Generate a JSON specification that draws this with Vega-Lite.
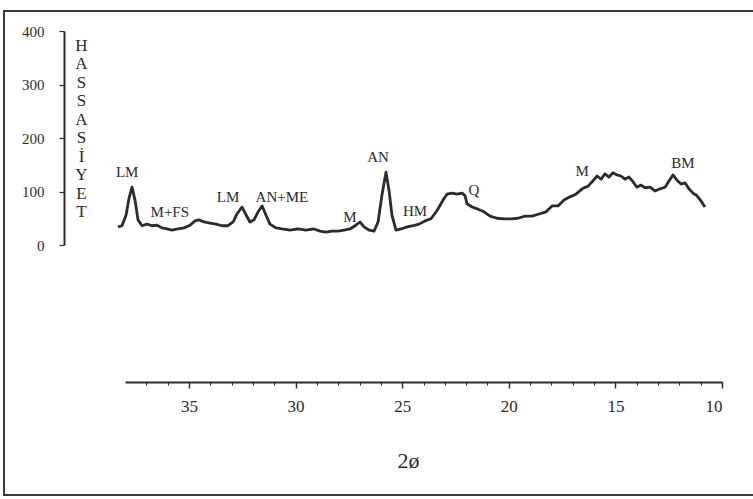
{
  "$schema": "https://vega.github.io/schema/vega-lite/v6.json",
  "width": 760,
  "height": 484,
  "autosize": {"type": "none"},
  "padding": {"left": 4, "top": 11, "right": 0, "bottom": 4},
  "background": "white",
  "config": {
    "view": {"stroke": "#3a3a3a", "strokeWidth": 2},
    "axis": {"grid": false, "labelFont": "Liberation Serif", "titleFont": "Liberation Serif", "labelColor": "#2b2b2b", "titleColor": "#2b2b2b", "domainColor": "#2b2b2b", "tickColor": "#2b2b2b"}
  },
  "datasets": {
    "curve": [
      {"t": 38.33, "i": 34}, {"t": 38.14, "i": 36}, {"t": 37.95, "i": 56}, {"t": 37.81, "i": 88},
      {"t": 37.67, "i": 108}, {"t": 37.53, "i": 84}, {"t": 37.39, "i": 47}, {"t": 37.2, "i": 36},
      {"t": 36.97, "i": 39}, {"t": 36.73, "i": 36}, {"t": 36.5, "i": 37}, {"t": 36.26, "i": 32},
      {"t": 36.03, "i": 30}, {"t": 35.8, "i": 28}, {"t": 35.51, "i": 30}, {"t": 35.23, "i": 32},
      {"t": 34.95, "i": 37}, {"t": 34.72, "i": 45}, {"t": 34.53, "i": 47}, {"t": 34.29, "i": 43},
      {"t": 34.01, "i": 41}, {"t": 33.73, "i": 39}, {"t": 33.45, "i": 36}, {"t": 33.17, "i": 36},
      {"t": 32.93, "i": 43}, {"t": 32.75, "i": 58}, {"t": 32.51, "i": 71}, {"t": 32.32, "i": 56},
      {"t": 32.14, "i": 43}, {"t": 31.95, "i": 47}, {"t": 31.76, "i": 62}, {"t": 31.57, "i": 73},
      {"t": 31.39, "i": 56}, {"t": 31.2, "i": 39}, {"t": 30.92, "i": 32}, {"t": 30.64, "i": 30},
      {"t": 30.26, "i": 28}, {"t": 29.89, "i": 30}, {"t": 29.51, "i": 28}, {"t": 29.14, "i": 30},
      {"t": 28.85, "i": 26}, {"t": 28.57, "i": 24}, {"t": 28.29, "i": 26}, {"t": 28.01, "i": 26},
      {"t": 27.73, "i": 28}, {"t": 27.45, "i": 30}, {"t": 27.17, "i": 37}, {"t": 26.98, "i": 43},
      {"t": 26.79, "i": 34}, {"t": 26.56, "i": 28}, {"t": 26.32, "i": 26}, {"t": 26.13, "i": 43},
      {"t": 25.95, "i": 93}, {"t": 25.76, "i": 136}, {"t": 25.62, "i": 103}, {"t": 25.48, "i": 56},
      {"t": 25.29, "i": 28}, {"t": 25.05, "i": 30}, {"t": 24.77, "i": 34}, {"t": 24.49, "i": 36},
      {"t": 24.21, "i": 39}, {"t": 23.93, "i": 45}, {"t": 23.65, "i": 49}, {"t": 23.37, "i": 64},
      {"t": 23.08, "i": 84}, {"t": 22.9, "i": 95}, {"t": 22.66, "i": 97}, {"t": 22.43, "i": 95},
      {"t": 22.19, "i": 97}, {"t": 22.05, "i": 92}, {"t": 21.96, "i": 77}, {"t": 21.72, "i": 71},
      {"t": 21.44, "i": 67}, {"t": 21.16, "i": 62}, {"t": 20.88, "i": 54}, {"t": 20.55, "i": 50},
      {"t": 20.22, "i": 49}, {"t": 19.89, "i": 49}, {"t": 19.57, "i": 50}, {"t": 19.24, "i": 54},
      {"t": 18.91, "i": 54}, {"t": 18.58, "i": 58}, {"t": 18.25, "i": 62}, {"t": 17.97, "i": 73},
      {"t": 17.69, "i": 73}, {"t": 17.41, "i": 84}, {"t": 17.13, "i": 90}, {"t": 16.85, "i": 95},
      {"t": 16.56, "i": 105}, {"t": 16.28, "i": 110}, {"t": 16.05, "i": 120}, {"t": 15.86, "i": 129},
      {"t": 15.67, "i": 123}, {"t": 15.49, "i": 133}, {"t": 15.3, "i": 127}, {"t": 15.11, "i": 135},
      {"t": 14.92, "i": 131}, {"t": 14.74, "i": 129}, {"t": 14.55, "i": 123}, {"t": 14.36, "i": 127},
      {"t": 14.17, "i": 118}, {"t": 13.99, "i": 108}, {"t": 13.8, "i": 112}, {"t": 13.61, "i": 107},
      {"t": 13.38, "i": 108}, {"t": 13.14, "i": 101}, {"t": 12.91, "i": 105}, {"t": 12.67, "i": 108},
      {"t": 12.48, "i": 120}, {"t": 12.3, "i": 131}, {"t": 12.11, "i": 121}, {"t": 11.92, "i": 114},
      {"t": 11.73, "i": 116}, {"t": 11.55, "i": 105}, {"t": 11.36, "i": 97}, {"t": 11.17, "i": 92},
      {"t": 10.98, "i": 82}, {"t": 10.8, "i": 71}
    ],
    "labels": [
      {"t": 37.9, "i": 136, "label": "LM"},
      {"t": 35.9, "i": 62, "label": "M+FS"},
      {"t": 33.17, "i": 90, "label": "LM"},
      {"t": 30.64, "i": 90, "label": "AN+ME"},
      {"t": 27.45, "i": 52, "label": "M"},
      {"t": 26.13, "i": 164, "label": "AN"},
      {"t": 24.4, "i": 64, "label": "HM"},
      {"t": 21.63, "i": 103, "label": "Q"},
      {"t": 16.56, "i": 138, "label": "M"},
      {"t": 11.83, "i": 153, "label": "BM"}
    ]
  },
  "resolve": {"axis": {"x": "independent"}},
  "layer": [
    {
      "data": {"name": "curve"},
      "mark": {"type": "line", "color": "#2b2b2b", "strokeWidth": 2.8, "strokeJoin": "round"},
      "encoding": {
        "x": {
          "field": "t", "type": "quantitative",
          "scale": {"domain": [10, 38], "range": [121, 718], "reverse": true, "nice": false, "zero": false},
          "axis": {
            "orient": "bottom", "offset": -113,
            "values": [10, 15, 20, 25, 30, 35],
            "labelOverlap": false, "labelBound": false, "labelFlush": false,
            "labelAlign": {"condition": {"test": "datum.value === 10", "value": "right"}, "value": "center"},
            "domain": false,
            "tickSize": 6, "tickWidth": 1.4,
            "labelFontSize": 17, "labelPadding": 10,
            "title": "2ø", "titleFontSize": 22, "titleFontWeight": "normal",
            "titleX": 404, "titleY": 68, "titleAlign": "center", "titleBaseline": "top"
          }
        },
        "y": {
          "field": "i", "type": "quantitative",
          "scale": {"domain": [0, 400], "range": [234, 20], "nice": false},
          "axis": {
            "orient": "left", "offset": -60,
            "values": [0, 100, 200, 300, 400],
            "labelOverlap": false,
            "tickSize": 5, "tickWidth": 1.2, "domainWidth": 2,
            "labelFontSize": 15, "labelPadding": 15,
            "title": ["H", "A", "S", "S", "A", "S", "İ", "Y", "E", "T"],
            "titleAngle": 0, "titleFontSize": 17, "titleFontWeight": "normal",
            "titleLineHeight": 18.5, "titleX": 17, "titleY": 26,
            "titleAlign": "center", "titleBaseline": "top"
          }
        }
      }
    },
    {
      "data": {"name": "labels"},
      "mark": {"type": "text", "font": "Liberation Serif", "fontSize": 15, "color": "#2b2b2b", "baseline": "middle", "align": "center"},
      "encoding": {
        "x": {
          "field": "t", "type": "quantitative",
          "axis": {
            "orient": "bottom", "offset": -113,
            "values": [10, 11, 12, 13, 14, 16, 17, 18, 19, 21, 22, 23, 24, 26, 27, 28, 29, 31, 32, 33, 34, 36, 37],
            "labels": false, "title": null,
            "tickSize": 3, "tickWidth": 1.2, "domainWidth": 2
          }
        },
        "y": {"field": "i", "type": "quantitative"},
        "text": {"field": "label"}
      }
    }
  ]
}
